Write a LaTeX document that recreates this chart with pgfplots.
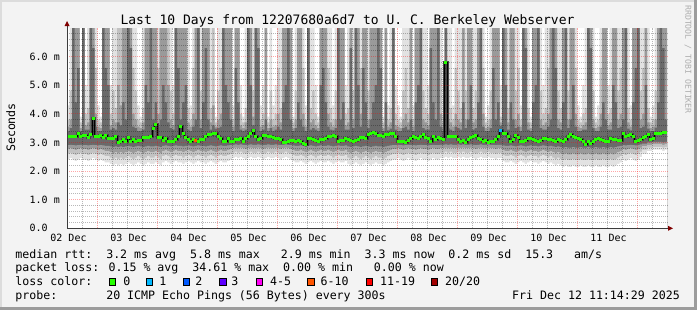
\documentclass[border=0pt]{standalone}
\usepackage{fontspec}
\newfontfamily\mono{DejaVu Sans Mono}
\usepackage{pgfplots}
\usepackage{pgfplotstable}
\pgfplotsset{compat=1.18}

\definecolor{bgc}{HTML}{F3F3F3}
\definecolor{shadeA}{HTML}{DCDCDC}
\definecolor{shadeB}{HTML}{9C9C9C}
\definecolor{smA}{HTML}{E2E2E2}
\definecolor{smB}{HTML}{C2C2C2}
\definecolor{smC}{HTML}{9A9A9A}
\definecolor{smD}{HTML}{6A6A6A}
\definecolor{core}{HTML}{464646}
\definecolor{lc0}{HTML}{26FF00}
\definecolor{lc1}{HTML}{00B8FF}
\definecolor{lc2}{HTML}{0059FF}
\definecolor{lc3}{HTML}{5E00FF}
\definecolor{lc4}{HTML}{FF00F5}
\definecolor{lc6}{HTML}{FF5500}
\definecolor{lc11}{HTML}{FF0000}
\definecolor{lc20}{HTML}{A10000}
\definecolor{arrowc}{HTML}{800000}
\definecolor{axisc}{HTML}{3C3C3C}
\definecolor{wmc}{HTML}{AEAEAE}

\newcommand\legfont{\mono\fontsize{11.6bp}{13bp}\selectfont}
\newcommand\tickfont{\mono\fontsize{10bp}{12bp}\selectfont}
\newcommand\titlefont{\mono\fontsize{13bp}{15bp}\selectfont}
\newcommand\wmfont{\mono\fontsize{8.2bp}{10bp}\selectfont}

% hourly columns: median rtt (ms) and smoke band limits (ms)
\pgfplotstableread{
h m uA uB uC uD lA lB lC lD
0 3.22 4.3 3.8 3.55 3.4 2.40 2.60 2.77 2.91
1 3.22 7 4.8 3.8 3.5 2.45 2.64 2.80 2.92
2 3.22 7 7 7 7 2.40 2.60 2.77 2.91
3 3.22 7 7 7 4.4 2.35 2.56 2.74 2.90
4 3.32 7 7 7 5.6 2.40 2.60 2.77 2.91
5 3.2 3.9 3.7 3.5 3.4 2.45 2.64 2.80 2.92
6 3.25 7 7 7 7 2.40 2.60 2.77 2.91
7 3.25 5.0 4.0 3.6 3.45 2.40 2.60 2.77 2.91
8 3.17 7 4.2 3.7 3.45 2.35 2.56 2.74 2.90
9 3.27 7 7 7 7 2.40 2.60 2.77 2.91
10 3.85 7 7 7 6.3 2.45 2.64 2.80 2.92
11 3.2 7 5.6 4.0 3.55 2.40 2.60 2.77 2.91
12 3.2 4.3 3.8 3.55 3.4 2.35 2.56 2.74 2.90
13 3.25 3.9 3.7 3.5 3.4 2.40 2.60 2.77 2.91
14 3.17 7 7 7 7 2.35 2.56 2.74 2.90
15 3.25 7 7 7 5.6 2.30 2.52 2.70 2.88
16 3.15 7 7 7 5.0 2.30 2.52 2.70 2.88
17 3.15 5.0 4.0 3.6 3.45 2.25 2.47 2.66 2.86
18 3.15 7 4.8 3.8 3.5 2.20 2.42 2.62 2.84
19 3.2 7 4.2 3.7 3.45 2.25 2.47 2.66 2.86
20 3.0 7 7 5.0 3.7 2.20 2.42 2.62 2.84
21 3.05 7 7 4.3 3.6 2.25 2.47 2.66 2.86
22 3.1 7 7 7 4.4 2.20 2.42 2.62 2.84
23 3.03 7 7 7 3.8 2.25 2.47 2.66 2.86
24 3.17 7 7 7 7 2.30 2.52 2.70 2.88
25 3.05 7 7 7 6.3 2.25 2.47 2.66 2.86
26 3.1 7 5.6 4.0 3.55 2.20 2.42 2.62 2.84
27 3.03 7 4.8 3.8 3.5 2.25 2.47 2.66 2.86
28 3.08 4.3 3.8 3.55 3.4 2.30 2.52 2.70 2.88
29 3.08 3.9 3.7 3.5 3.4 2.25 2.47 2.66 2.86
30 3.17 7 4.2 3.7 3.45 2.20 2.42 2.62 2.84
31 3.17 7 7 7 5.0 2.25 2.47 2.66 2.86
32 3.17 7 7 7 4.4 2.30 2.52 2.70 2.88
33 3.22 7 7 7 7 2.25 2.47 2.66 2.86
34 3.5 7 7 7 3.8 2.25 2.47 2.66 2.86
35 3.62 7 7 7 4.4 2.30 2.52 2.70 2.88
36 3.17 7 5.6 4.0 3.55 2.25 2.47 2.66 2.86
37 3.17 7 7 7 3.8 2.20 2.42 2.62 2.84
38 3.08 7 7 7 5.0 2.30 2.52 2.70 2.88
39 3.13 7 7 7 4.4 2.35 2.56 2.74 2.90
40 3.03 7 7 5.0 3.7 2.30 2.52 2.70 2.88
41 3.03 7 4.8 3.8 3.5 2.25 2.47 2.66 2.86
42 3.03 5.0 4.0 3.6 3.45 2.30 2.52 2.70 2.88
43 3.1 7 7 7 7 2.35 2.56 2.74 2.90
44 3.2 7 7 7 5.6 2.30 2.52 2.70 2.88
45 3.55 7 7 7 3.8 2.30 2.52 2.70 2.88
46 3.3 7 7 7 4.4 2.25 2.47 2.66 2.86
47 3.17 7 7 7 5.0 2.30 2.52 2.70 2.88
48 3.1 7 4.2 3.7 3.45 2.35 2.56 2.74 2.90
49 3.05 4.3 3.8 3.55 3.4 2.30 2.52 2.70 2.88
50 3.1 7 5.6 4.0 3.55 2.25 2.47 2.66 2.86
51 3.08 7 7 7 3.8 2.30 2.52 2.70 2.88
52 3.05 7 7 7 7 2.35 2.56 2.74 2.90
53 3.1 7 4.8 3.8 3.5 2.30 2.52 2.70 2.88
54 3.1 7 7 7 4.4 2.30 2.52 2.70 2.88
55 3.2 7 7 7 6.3 2.25 2.47 2.66 2.86
56 3.27 7 7 7 3.8 2.30 2.52 2.70 2.88
57 3.27 7 4.2 3.7 3.45 2.35 2.56 2.74 2.90
58 3.3 7 7 4.3 3.6 2.30 2.52 2.70 2.88
59 3.3 3.9 3.7 3.55 3.48 2.25 2.47 2.66 2.86
60 3.22 7 4.8 3.8 3.5 2.30 2.52 2.70 2.88
61 3.13 7 5.6 4.0 3.55 2.35 2.56 2.74 2.90
62 3.02 7 7 7 7 2.30 2.52 2.70 2.88
63 3.02 7 7 7 5.0 2.30 2.52 2.70 2.88
64 3.15 7 7 7 4.4 2.35 2.56 2.74 2.90
65 3.05 7 7 7 3.8 2.40 2.60 2.77 2.91
66 3.05 4.3 3.8 3.55 3.4 2.45 2.64 2.80 2.92
67 3.1 7 7 7 5.6 2.50 2.68 2.82 2.93
68 3.1 7 7 7 4.4 2.45 2.64 2.80 2.92
69 3.13 5.0 4.0 3.6 3.45 2.50 2.68 2.82 2.93
70 3.05 3.9 3.7 3.5 3.4 2.45 2.64 2.80 2.92
71 3.13 7 4.2 3.7 3.45 2.40 2.60 2.77 2.91
72 3.2 7 7 7 7 2.45 2.64 2.80 2.92
73 3.33 7 7 7 5.0 2.50 2.68 2.82 2.93
74 3.43 7 4.8 3.9 3.6 2.45 2.64 2.80 2.92
75 3.2 7 7 7 7 2.45 2.64 2.80 2.92
76 3.1 7 7 7 6.3 2.50 2.68 2.82 2.93
77 3.13 4.3 3.8 3.55 3.4 2.45 2.64 2.80 2.92
78 3.25 5.0 4.0 3.6 3.45 2.40 2.60 2.77 2.91
79 3.25 7 7 7 3.8 2.45 2.64 2.80 2.92
80 3.22 3.9 3.7 3.5 3.4 2.50 2.68 2.82 2.93
81 3.22 7 4.8 3.8 3.5 2.45 2.64 2.80 2.92
82 3.18 4.3 3.8 3.55 3.4 2.45 2.64 2.80 2.92
83 3.15 5.0 4.0 3.6 3.45 2.50 2.68 2.82 2.93
84 3.13 7 5.6 4.0 3.55 2.45 2.64 2.80 2.92
85 3.1 7 4.2 3.7 3.45 2.40 2.60 2.77 2.91
86 3.0 7 7 7 4.4 2.45 2.64 2.80 2.92
87 3.0 7 7 7 5.0 2.50 2.68 2.82 2.93
88 3.05 7 7 7 7 2.45 2.64 2.80 2.92
89 3.06 7 7 7 3.8 2.40 2.60 2.77 2.91
90 3.08 3.9 3.7 3.5 3.4 2.35 2.56 2.74 2.90
91 3.03 7 4.8 3.8 3.5 2.30 2.52 2.70 2.88
92 3.08 7 7 7 4.4 2.30 2.52 2.70 2.88
93 3.05 7 7 7 3.8 2.35 2.56 2.74 2.90
94 2.97 7 5.6 4.0 3.55 2.30 2.52 2.70 2.87
95 2.94 4.3 3.8 3.55 3.4 2.25 2.47 2.66 2.84
96 3.13 7 7 7 7 2.30 2.52 2.70 2.88
97 3.13 7 4.2 3.7 3.45 2.35 2.56 2.74 2.90
98 3.1 7 4.8 3.8 3.5 2.30 2.52 2.70 2.88
99 3.08 5.0 4.0 3.6 3.45 2.25 2.47 2.66 2.86
100 3.03 3.9 3.7 3.5 3.4 2.30 2.52 2.70 2.88
101 3.1 7 7 7 5.0 2.35 2.56 2.74 2.90
102 3.12 7 7 7 5.6 2.30 2.52 2.70 2.88
103 3.15 7 7 7 4.4 2.30 2.52 2.70 2.88
104 3.22 7 5.6 4.0 3.55 2.35 2.56 2.74 2.90
105 3.22 7 4.2 3.7 3.45 2.30 2.52 2.70 2.88
106 3.25 4.3 3.8 3.55 3.42 2.25 2.47 2.66 2.86
107 3.2 7 4.8 3.8 3.5 2.30 2.52 2.70 2.88
108 3.03 7 7 7 7 2.35 2.56 2.74 2.90
109 3.08 7 7 7 3.8 2.30 2.52 2.70 2.88
110 3.08 7 7 7 4.4 2.30 2.52 2.70 2.88
111 3.13 5.0 4.0 3.6 3.45 2.35 2.56 2.74 2.90
112 3.1 7 4.2 3.7 3.45 2.25 2.47 2.66 2.86
113 3.08 7 7 7 6.3 2.20 2.42 2.62 2.84
114 3.03 7 4.8 3.8 3.5 2.25 2.47 2.66 2.86
115 3.08 7 7 7 7 2.30 2.52 2.70 2.88
116 3.1 7 7 7 5.0 2.25 2.47 2.66 2.86
117 3.17 7 5.6 4.0 3.55 2.20 2.42 2.62 2.84
118 3.17 7 7 7 5.6 2.25 2.47 2.66 2.86
119 3.15 7 7 7 4.4 2.30 2.52 2.70 2.88
120 3.27 7 4.8 3.8 3.5 2.25 2.47 2.66 2.86
121 3.3 7 7 7 3.8 2.20 2.42 2.62 2.84
122 3.35 7 7 7 4.4 2.25 2.47 2.66 2.86
123 3.32 7 7 7 5.0 2.30 2.52 2.70 2.88
124 3.25 7 7 7 7 2.25 2.47 2.66 2.86
125 3.23 7 7 7 5.6 2.25 2.47 2.66 2.86
126 3.22 3.9 3.7 3.5 3.4 2.20 2.42 2.62 2.84
127 3.27 7 7 7 4.4 2.25 2.47 2.66 2.86
128 3.27 4.3 3.8 3.55 3.42 2.30 2.52 2.70 2.88
129 3.3 7 4.2 3.7 3.48 2.35 2.56 2.74 2.90
130 3.3 7 7 7 7 2.40 2.60 2.77 2.91
131 3.2 5.0 4.0 3.6 3.45 2.40 2.60 2.77 2.91
132 3.05 4.3 3.8 3.55 3.4 2.45 2.64 2.80 2.92
133 3.03 3.9 3.7 3.5 3.4 2.40 2.60 2.77 2.91
134 3.05 7 4.8 3.8 3.5 2.35 2.56 2.74 2.90
135 3.0 7 5.6 4.0 3.55 2.40 2.60 2.77 2.91
136 3.07 7 4.2 3.7 3.45 2.45 2.64 2.80 2.92
137 3.13 7 7 7 3.8 2.40 2.60 2.77 2.91
138 3.2 4.3 3.8 3.55 3.4 2.40 2.60 2.77 2.91
139 3.17 7 7 7 4.4 2.35 2.56 2.74 2.90
140 3.13 7 7 7 5.0 2.40 2.60 2.77 2.91
141 3.2 7 7 7 7 2.45 2.64 2.80 2.92
142 3.27 7 4.8 3.8 3.5 2.40 2.60 2.77 2.91
143 3.17 7 4.2 3.7 3.45 2.40 2.60 2.77 2.91
144 3.13 5.0 4.0 3.6 3.45 2.35 2.56 2.74 2.90
145 3.05 7 7 7 6.3 2.40 2.60 2.77 2.91
146 3.2 7 7 7 4.4 2.45 2.64 2.80 2.92
147 3.1 7 7 7 3.8 2.40 2.60 2.77 2.91
148 3.18 7 7 7 7 2.40 2.60 2.77 2.91
149 3.15 7 5.6 4.0 3.55 2.45 2.64 2.80 2.92
150 3.1 3.9 3.7 3.5 3.4 2.45 2.64 2.80 2.92
151 5.8 7 7 7 7 2.50 2.68 2.82 2.93
152 3.2 7 4.8 3.8 3.5 2.45 2.64 2.80 2.92
153 3.2 7 4.2 3.7 3.45 2.50 2.68 2.82 2.93
154 3.2 4.3 3.8 3.55 3.4 2.45 2.64 2.80 2.92
155 3.2 7 5.6 4.0 3.55 2.45 2.64 2.80 2.92
156 3.1 7 4.8 3.8 3.5 2.50 2.68 2.82 2.93
157 3.05 7 4.2 3.7 3.45 2.45 2.64 2.80 2.92
158 3.06 7 7 7 4.4 2.50 2.68 2.82 2.93
159 3.0 7 4.8 3.8 3.5 2.45 2.64 2.80 2.92
160 3.1 7 7 7 3.8 2.45 2.64 2.80 2.92
161 3.17 7 7 7 5.0 2.50 2.68 2.82 2.93
162 3.22 7 4.2 3.7 3.45 2.45 2.64 2.80 2.92
163 3.25 7 4.8 3.8 3.5 2.40 2.60 2.77 2.91
164 3.15 7 7 7 4.4 2.45 2.64 2.80 2.92
165 3.1 7 7 7 7 2.50 2.68 2.82 2.93
166 3.05 7 5.6 4.0 3.55 2.45 2.64 2.80 2.92
167 3.08 3.9 3.7 3.5 3.4 2.45 2.64 2.80 2.92
168 3.0 4.3 3.8 3.55 3.4 2.50 2.68 2.82 2.93
169 3.03 7 4.8 3.8 3.5 2.45 2.64 2.80 2.92
170 3.05 7 7 7 5.6 2.45 2.64 2.80 2.92
171 3.1 7 7 7 3.8 2.40 2.60 2.77 2.91
172 3.22 7 7 7 4.4 2.45 2.64 2.80 2.92
173 3.43 5.0 3.9 3.7 3.58 2.45 2.64 2.80 2.92
174 3.32 7 7 7 7 2.35 2.56 2.74 2.90
175 3.3 7 7 7 5.0 2.30 2.52 2.70 2.88
176 3.2 7 4.2 3.7 3.45 2.30 2.52 2.70 2.88
177 3.05 7 7 7 4.4 2.35 2.56 2.74 2.90
178 3.1 7 7 7 3.8 2.30 2.52 2.70 2.88
179 3.25 7 4.8 3.8 3.5 2.25 2.47 2.66 2.86
180 3.17 7 5.6 4.0 3.55 2.30 2.52 2.70 2.88
181 3.03 4.3 3.8 3.55 3.4 2.35 2.56 2.74 2.90
182 3.05 7 7 7 7 2.30 2.52 2.70 2.88
183 3.08 7 7 7 6.3 2.25 2.47 2.66 2.86
184 3.15 7 4.2 3.7 3.45 2.30 2.52 2.70 2.88
185 3.15 3.9 3.7 3.5 3.4 2.35 2.56 2.74 2.90
186 3.1 7 7 7 4.4 2.30 2.52 2.70 2.88
187 3.06 7 7 7 5.0 2.30 2.52 2.70 2.88
188 3.03 7 7 7 7 2.25 2.47 2.66 2.86
189 3.08 7 4.8 3.8 3.5 2.30 2.52 2.70 2.88
190 3.15 5.0 4.0 3.6 3.45 2.35 2.56 2.74 2.90
191 3.15 7 4.2 3.7 3.45 2.30 2.52 2.70 2.88
192 3.1 7 5.6 4.0 3.55 2.25 2.47 2.66 2.86
193 3.12 7 7 7 3.8 2.30 2.52 2.70 2.88
194 3.08 7 7 7 7 2.25 2.47 2.66 2.86
195 3.05 7 7 7 5.6 2.20 2.42 2.62 2.84
196 3.1 7 4.8 3.8 3.5 2.25 2.47 2.66 2.86
197 3.07 7 4.2 3.7 3.45 2.20 2.42 2.62 2.84
198 3.05 7 7 7 4.4 2.15 2.38 2.58 2.82
199 3.1 7 7 7 7 2.20 2.42 2.62 2.84
200 3.2 7 4.8 3.8 3.5 2.15 2.38 2.58 2.82
201 3.29 7 7 7 3.8 2.15 2.38 2.58 2.82
202 3.2 7 7 7 5.0 2.20 2.42 2.62 2.84
203 3.17 7 5.6 4.0 3.55 2.15 2.38 2.58 2.82
204 3.14 4.3 3.8 3.55 3.4 2.15 2.38 2.58 2.82
205 3.1 3.9 3.7 3.5 3.4 2.20 2.42 2.62 2.84
206 3.05 5.0 4.0 3.6 3.45 2.15 2.38 2.58 2.82
207 2.93 7 4.2 3.7 3.45 2.15 2.38 2.58 2.82
208 3.05 7 7 7 7 2.20 2.42 2.62 2.84
209 2.97 7 7 7 6.3 2.15 2.38 2.58 2.82
210 3.03 7 4.8 3.8 3.5 2.15 2.38 2.58 2.82
211 3.1 3.9 3.7 3.5 3.4 2.20 2.42 2.62 2.84
212 3.15 4.3 3.8 3.55 3.4 2.15 2.38 2.58 2.82
213 3.1 7 5.6 4.0 3.55 2.15 2.38 2.58 2.82
214 3.08 7 7 7 4.4 2.20 2.42 2.62 2.84
215 3.02 7 7 7 3.8 2.15 2.38 2.58 2.82
216 3.05 5.0 4.0 3.6 3.45 2.15 2.38 2.58 2.82
217 3.15 7 4.2 3.7 3.45 2.20 2.42 2.62 2.84
218 3.09 7 7 7 5.0 2.15 2.38 2.58 2.82
219 3.09 7 7 7 4.4 2.20 2.42 2.62 2.84
220 3.08 7 4.8 3.8 3.5 2.25 2.47 2.66 2.86
221 3.08 7 5.6 4.0 3.55 2.30 2.52 2.70 2.88
222 3.3 7 7 7 3.8 2.40 2.60 2.77 2.91
223 3.2 7 7 7 7 2.35 2.56 2.74 2.90
224 3.25 7 4.2 3.7 3.48 2.40 2.60 2.77 2.91
225 3.27 4.3 3.8 3.55 3.42 2.45 2.64 2.80 2.92
226 3.2 7 7 7 4.4 2.40 2.60 2.77 2.91
227 3.05 7 7 7 5.6 2.35 2.56 2.74 2.90
228 3.08 7 7 7 7 2.40 2.60 2.77 2.91
229 3.12 7 4.8 3.8 3.5 2.50 2.68 2.82 2.93
230 3.17 7 5.6 4.0 3.55 2.60 2.75 2.87 2.96
231 3.2 7 7 7 5.0 2.60 2.75 2.87 2.96
232 3.27 7 4.2 3.7 3.48 2.70 2.82 2.92 3.00
233 3.1 3.9 3.7 3.5 3.4 2.70 2.82 2.92 3.00
234 3.13 4.3 3.8 3.55 3.4 2.75 2.85 2.95 3.02
235 3.3 7 4.8 3.8 3.52 2.75 2.85 2.95 3.02
236 3.3 7 7 7 4.4 2.75 2.85 2.95 3.02
237 3.32 7 7 7 7 2.75 2.85 2.95 3.02
238 3.35 7 7 7 6.3 2.70 2.82 2.92 3.00
239 3.35 7 7 7 3.8 2.75 2.85 2.95 3.02
240 3.35 7 7 7 3.8 2.75 2.85 2.95 3.02
}\smoke

\begin{document}
\begin{tikzpicture}[x=1bp,y=1bp]
\fill[bgc] (0,0) rectangle (697,310);
\fill[shadeA] (0,308) rectangle (697,310);
\fill[shadeA] (0,0) rectangle (2,310);
\fill[shadeB] (694,0) rectangle (697,310);
\fill[shadeB] (0,0) rectangle (697,3);

\begin{axis}[
  at={(67bp,81.7bp)}, anchor=south west,
  scale only axis, width=601bp, height=200.3bp,
  xmin=0, xmax=240.4, ymin=0, ymax=7,
  axis background/.style={fill=white},
  axis line style={draw=none},
  tick style={draw=none},
  major tick length=0pt, minor tick length=0pt,
  xtick={12.12,36.12,60.12,84.12,108.12,132.12,156.12,180.12,204.12,228.12},
  xticklabels={},
  minor xtick={6.12,18.12,24.12,30.12,42.12,48.12,54.12,66.12,72.12,78.12,90.12,96.12,102.12,114.12,120.12,126.12,138.12,144.12,150.12,162.12,168.12,174.12,186.12,192.12,198.12,210.12,216.12,222.12,234.12},
  extra x ticks={0.6,24.6,48.6,72.6,96.6,120.6,144.6,168.6,192.6,216.6},
  extra x tick labels={02 Dec,03 Dec,04 Dec,05 Dec,06 Dec,07 Dec,08 Dec,09 Dec,10 Dec,11 Dec},
  extra x tick style={grid=none},
  ytick={0,1,2,3,4,5,6},
  yticklabels={0.0,1.0 m,2.0 m,3.0 m,4.0 m,5.0 m,6.0 m},
  minor ytick={0.2,0.4,0.6,0.8,1.2,1.4,1.6,1.8,2.2,2.4,2.6,2.8,3.2,3.4,3.6,3.8,4.2,4.4,4.6,4.8,5.2,5.4,5.6,5.8,6.2,6.4,6.6,6.8},
  grid=both,
  major grid style={draw=red, draw opacity=0.35, line width=1bp, dash pattern=on 1bp off 1bp},
  minor grid style={draw=black, draw opacity=0.28, line width=1bp, dash pattern=on 1bp off 1bp},
  axis on top,
  ticklabel style={font=\tickfont},
  xticklabel style={anchor=north, inner sep=0pt, yshift=-5.5bp},
  yticklabel style={anchor=west, inner sep=0pt, xshift=-37.5bp},
  clip=true,
]
% smoke, painted from the outermost band inwards
\addplot[fill=smA, draw=none, const plot] table[x=h,y=uA]{\smoke} \closedcycle;
\addplot[fill=smB, draw=none, const plot] table[x=h,y=uB]{\smoke} \closedcycle;
\addplot[fill=smC, draw=none, const plot] table[x=h,y=uC]{\smoke} \closedcycle;
\addplot[fill=smD, draw=none, const plot] table[x=h,y=uD]{\smoke} \closedcycle;
\addplot[fill=smC, draw=none, const plot] table[x=h,y=lD]{\smoke} \closedcycle;
\addplot[fill=smB, draw=none, const plot] table[x=h,y=lC]{\smoke} \closedcycle;
\addplot[fill=smA, draw=none, const plot] table[x=h,y=lB]{\smoke} \closedcycle;
\addplot[fill=white, draw=none, const plot] table[x=h,y=lA]{\smoke} \closedcycle;
% median
\addplot[const plot, draw=core, line width=3bp] table[x=h,y=m]{\smoke};
\addplot[const plot, draw=black, line width=1bp] table[x=h,y=m]{\smoke};
\addplot[only marks, mark=-, mark size=1.3bp, mark options={draw=lc0, line width=3bp},
  skip coords between index={240}{241}] table[x expr=\thisrow{h}+0.5, y=m]{\smoke};
\addplot[only marks, mark=-, mark size=1.3bp, mark options={draw=lc6, line width=3bp}] coordinates {(51.5,3.08)};
\addplot[only marks, mark=-, mark size=1.3bp, mark options={draw=lc1, line width=3bp}] coordinates {(173.5,3.43)};
\end{axis}

% axes with arrows
\draw[axisc, line width=1bp] (67,81.7) -- (67,284);
\draw[axisc, line width=1bp] (67,81.7) -- (668,81.7);
\fill[arrowc] (64.5,284) -- (69.5,284) -- (67,289) -- cycle;
\fill[arrowc] (668,79.2) -- (668,84.2) -- (673,81.7) -- cycle;

% title, axis label, watermark
\node[anchor=base, inner sep=0pt, font=\titlefont] at (347.5,286) {Last 10 Days from 12207680a6d7 to U. C. Berkeley Webserver};
\node[anchor=base, rotate=90, inner sep=0pt, font=\legfont] at (15,182.5) {Seconds};
\node[anchor=base, rotate=-90, inner sep=0pt, font=\wmfont, text=wmc] at (685.3,250.5) {RRDTOOL / TOBI OETIKER};

% legend
\node[anchor=base west, inner sep=0pt, font=\legfont] at (15.3,52) {median rtt:~~3.2 ms avg~~5.8 ms max~~~2.9 ms min~~3.3 ms now~~0.2 ms sd~~15.3~~~am/s};
\node[anchor=base west, inner sep=0pt, font=\legfont] at (15.3,38.2) {packet loss: 0.15 \% avg~~34.61 \% max~~0.00 \% min~~~0.00 \% now};
\node[anchor=base west, inner sep=0pt, font=\legfont] at (15.3,24.3) {loss color:};
\foreach \xx/\cc in {108.7/lc0, 146/lc1, 182.7/lc2, 219.3/lc3, 256/lc4, 307.3/lc6, 366/lc11, 431/lc20}
  \filldraw[fill=\cc, draw=black, line width=1bp] (\xx+0.5,24.5) rectangle ++(6.3,6.7);
\foreach \xx/\tt in {123.2/0, 159.2/1, 195.2/2, 231.2/3, 270/4-5, 320.5/6-10, 380/11-19, 445/20\slash 20}
  \node[anchor=base west, inner sep=0pt, font=\legfont] at (\xx,24.3) {\tt};
\node[anchor=base west, inner sep=0pt, font=\legfont] at (15.3,10.7) {probe:~~~~~~~20 ICMP Echo Pings (56 Bytes) every 300s};
\node[anchor=base west, inner sep=0pt, font=\legfont] at (512,10.7) {Fri Dec 12 11:14:29 2025};

\pgfresetboundingbox
\useasboundingbox (0,0) rectangle (697,310);
\end{tikzpicture}
\end{document}
